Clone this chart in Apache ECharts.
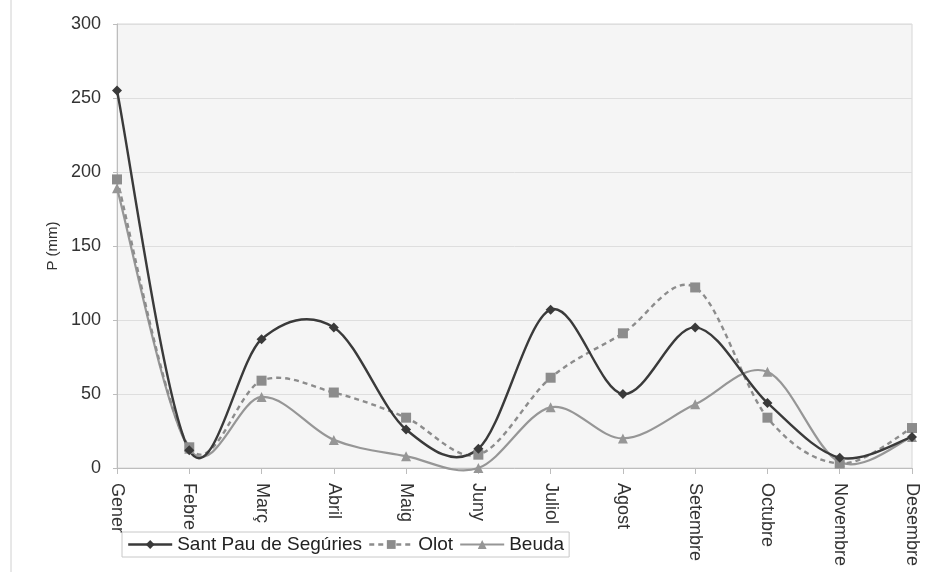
<!DOCTYPE html>
<html>
<head>
<meta charset="utf-8">
<script src="https://cdn.jsdelivr.net/npm/echarts@6/dist/echarts.min.js"></script>
<style>html,body{margin:0;padding:0;background:#fff}#c{width:930px;height:572px}</style>
</head>
<body>
<div id="c"></div>
<script>
const months = ['Gener','Febre','Març','Abril','Maig','Juny','Juliol','Agost','Setembre','Octubre','Novembre','Desembre'];
const santPau = [255, 12, 87, 95, 26, 13, 107, 50, 95, 44, 7, 21];
const olot = [195, 14, 59, 51, 34, 9, 61, 91, 122, 34, 3, 27];
const beuda = [189, 13, 48, 19, 8, 0, 41, 20, 43, 65, 4, 21];
const yTicks = [0, 50, 100, 150, 200, 250, 300];

const font = 'Liberation Sans, Arial, sans-serif';
const C1 = '#3a3a3a', C2 = '#8c8c8c', C3 = '#969696';

// Excel-like smoothed curve drawn through the axis scales (api.coord)
function curveSeries(name, values, color, width, dash, z) {
  return {
    type: 'custom', name: name + '_curve', data: [0], z: z, silent: true,
    renderItem: function (params, api) {
      const pts = values.map((v, i) => api.coord([i, v]));
      const n = pts.length;
      let d = 'M' + pts[0][0] + ' ' + pts[0][1];
      for (let i = 0; i < n - 1; i++) {
        const p0 = pts[Math.max(i - 1, 0)], p1 = pts[i], p2 = pts[i + 1], p3 = pts[Math.min(i + 2, n - 1)];
        const c1x = p1[0] + (p2[0] - p0[0]) / 6, c1y = p1[1] + (p2[1] - p0[1]) / 6;
        const c2x = p2[0] - (p3[0] - p1[0]) / 6, c2y = p2[1] - (p3[1] - p1[1]) / 6;
        d += ' C' + c1x + ' ' + c1y + ' ' + c2x + ' ' + c2y + ' ' + p2[0] + ' ' + p2[1];
      }
      return {type: 'path', shape: {pathData: d}, style: {stroke: color, lineWidth: width, fill: 'none', lineDash: dash}};
    }
  };
}

const chart = echarts.init(document.getElementById('c'));
chart.setOption({
  animation: false,
  backgroundColor: '#ffffff',
  graphic: [{type:'line', shape:{x1:11,y1:0,x2:11,y2:572}, style:{stroke:'#d0d0d0', lineWidth:1}}],
  grid: {left:117, right:18, top:24, bottom:104, show:true, backgroundColor:'#f5f5f5', borderColor:'#d6d6d6', borderWidth:1},
  legend: {
    left:122, top:532, orient:'horizontal',
    itemWidth:44, itemHeight:11, itemGap:6,
    padding:[3,5,3,5],
    borderColor:'#c8c8c8', borderWidth:1, backgroundColor:'#ffffff',
    textStyle:{fontFamily:font, fontSize:19, color:'#222'},
    data:[
      {name:'Sant Pau de Segúries', lineStyle:{color:C1, width:2.4, opacity:1, type:'solid'}},
      {name:'Olot', lineStyle:{color:C2, width:2.4, opacity:1, type:[5,4]}},
      {name:'Beuda', lineStyle:{color:C3, width:2.2, opacity:1, type:'solid'}}
    ]
  },
  xAxis: {
    type:'category', data:months, boundaryGap:false,
    axisLine:{lineStyle:{color:'#bdbdbd'}},
    axisTick:{show:true, alignWithLabel:true, length:6, lineStyle:{color:'#bdbdbd'}},
    axisLabel:{rotate:-90, interval:0, margin:15, fontFamily:font, fontSize:18, color:'#333'},
    splitLine:{show:false}
  },
  yAxis: {
    type:'value', min:yTicks[0], max:yTicks[yTicks.length-1], interval:50,
    name:'P (mm)', nameLocation:'middle', nameGap:57, nameRotate:90,
    nameTextStyle:{fontFamily:font, fontSize:15, color:'#333'},
    axisLine:{show:true, lineStyle:{color:'#bdbdbd'}},
    axisTick:{show:true, length:4, lineStyle:{color:'#bdbdbd'}},
    axisLabel:{margin:16, fontFamily:font, fontSize:18, color:'#333'},
    splitLine:{lineStyle:{color:'#dedede'}}
  },
  series: [
    curveSeries('Beuda', beuda, C3, 2.2, null, 1),
    curveSeries('Olot', olot, C2, 2.4, [5,4], 2),
    curveSeries('Sant Pau de Segúries', santPau, C1, 2.4, null, 3),
    {name:'Sant Pau de Segúries', type:'line', data:santPau, symbol:'diamond', symbolSize:10,
     itemStyle:{color:C1}, lineStyle:{color:C1, width:2.4, opacity:0}, z:6},
    {name:'Olot', type:'line', data:olot, symbol:'rect', symbolSize:10,
     itemStyle:{color:C2}, lineStyle:{color:C2, width:2.4, type:[5,4], opacity:0}, z:5},
    {name:'Beuda', type:'line', data:beuda, symbol:'triangle', symbolSize:10,
     itemStyle:{color:C3}, lineStyle:{color:C3, width:2.2, opacity:0}, z:4}
  ]
});
</script>
</body>
</html>
